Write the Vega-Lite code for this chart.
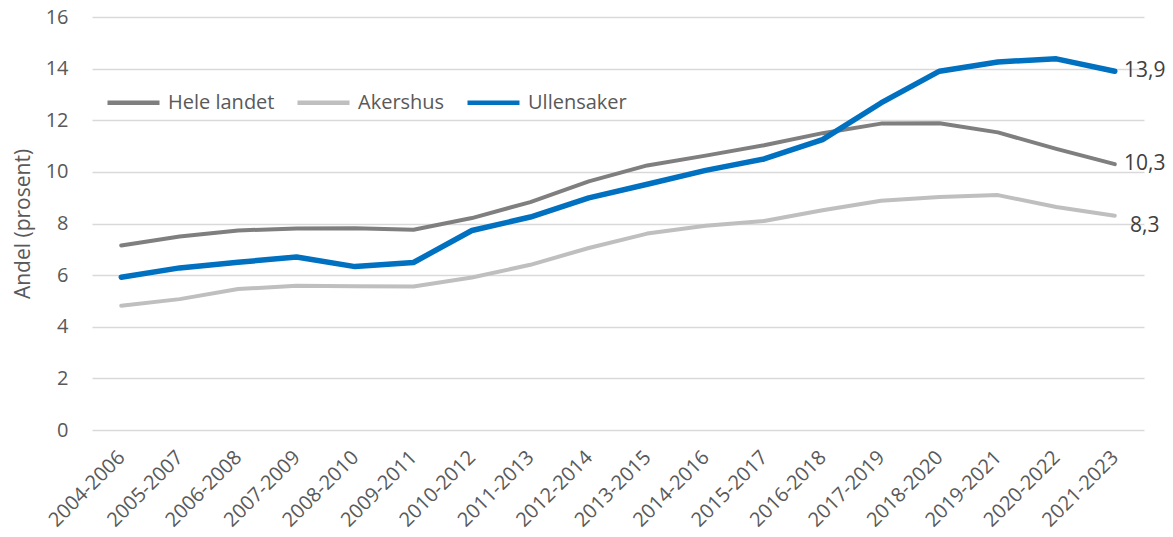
{
  "$schema": "https://vega.github.io/schema/vega-lite/v6.json",
  "width": 1052,
  "height": 413,
  "autosize": {"type": "none"},
  "padding": {"left": 92, "top": 17, "right": 29, "bottom": 107},
  "background": "white",
  "config": {
    "view": {"stroke": null},
    "font": "Open Sans",
    "locale": {"number": {"decimal": ",", "thousands": " ", "grouping": [3], "currency": ["", " kr"]}}
  },
  "data": {
    "values": [
      {"periode": "2004-2006", "serie": "Hele landet", "andel": 7.15},
      {"periode": "2005-2007", "serie": "Hele landet", "andel": 7.5},
      {"periode": "2006-2008", "serie": "Hele landet", "andel": 7.73},
      {"periode": "2007-2009", "serie": "Hele landet", "andel": 7.81},
      {"periode": "2008-2010", "serie": "Hele landet", "andel": 7.82},
      {"periode": "2009-2011", "serie": "Hele landet", "andel": 7.76},
      {"periode": "2010-2012", "serie": "Hele landet", "andel": 8.21},
      {"periode": "2011-2013", "serie": "Hele landet", "andel": 8.83},
      {"periode": "2012-2014", "serie": "Hele landet", "andel": 9.63},
      {"periode": "2013-2015", "serie": "Hele landet", "andel": 10.25},
      {"periode": "2014-2016", "serie": "Hele landet", "andel": 10.63},
      {"periode": "2015-2017", "serie": "Hele landet", "andel": 11.03},
      {"periode": "2016-2018", "serie": "Hele landet", "andel": 11.5},
      {"periode": "2017-2019", "serie": "Hele landet", "andel": 11.87},
      {"periode": "2018-2020", "serie": "Hele landet", "andel": 11.88},
      {"periode": "2019-2021", "serie": "Hele landet", "andel": 11.53},
      {"periode": "2020-2022", "serie": "Hele landet", "andel": 10.89},
      {"periode": "2021-2023", "serie": "Hele landet", "andel": 10.3},
      {"periode": "2004-2006", "serie": "Akershus", "andel": 4.81},
      {"periode": "2005-2007", "serie": "Akershus", "andel": 5.07},
      {"periode": "2006-2008", "serie": "Akershus", "andel": 5.46},
      {"periode": "2007-2009", "serie": "Akershus", "andel": 5.59},
      {"periode": "2008-2010", "serie": "Akershus", "andel": 5.57},
      {"periode": "2009-2011", "serie": "Akershus", "andel": 5.56},
      {"periode": "2010-2012", "serie": "Akershus", "andel": 5.91},
      {"periode": "2011-2013", "serie": "Akershus", "andel": 6.4},
      {"periode": "2012-2014", "serie": "Akershus", "andel": 7.05},
      {"periode": "2013-2015", "serie": "Akershus", "andel": 7.61},
      {"periode": "2014-2016", "serie": "Akershus", "andel": 7.91},
      {"periode": "2015-2017", "serie": "Akershus", "andel": 8.1},
      {"periode": "2016-2018", "serie": "Akershus", "andel": 8.51},
      {"periode": "2017-2019", "serie": "Akershus", "andel": 8.88},
      {"periode": "2018-2020", "serie": "Akershus", "andel": 9.03},
      {"periode": "2019-2021", "serie": "Akershus", "andel": 9.1},
      {"periode": "2020-2022", "serie": "Akershus", "andel": 8.64},
      {"periode": "2021-2023", "serie": "Akershus", "andel": 8.3},
      {"periode": "2004-2006", "serie": "Ullensaker", "andel": 5.92},
      {"periode": "2005-2007", "serie": "Ullensaker", "andel": 6.28},
      {"periode": "2006-2008", "serie": "Ullensaker", "andel": 6.5},
      {"periode": "2007-2009", "serie": "Ullensaker", "andel": 6.7},
      {"periode": "2008-2010", "serie": "Ullensaker", "andel": 6.33},
      {"periode": "2009-2011", "serie": "Ullensaker", "andel": 6.49},
      {"periode": "2010-2012", "serie": "Ullensaker", "andel": 7.73},
      {"periode": "2011-2013", "serie": "Ullensaker", "andel": 8.25},
      {"periode": "2012-2014", "serie": "Ullensaker", "andel": 8.99},
      {"periode": "2013-2015", "serie": "Ullensaker", "andel": 9.52},
      {"periode": "2014-2016", "serie": "Ullensaker", "andel": 10.06},
      {"periode": "2015-2017", "serie": "Ullensaker", "andel": 10.5},
      {"periode": "2016-2018", "serie": "Ullensaker", "andel": 11.25},
      {"periode": "2017-2019", "serie": "Ullensaker", "andel": 12.67},
      {"periode": "2018-2020", "serie": "Ullensaker", "andel": 13.9},
      {"periode": "2019-2021", "serie": "Ullensaker", "andel": 14.26},
      {"periode": "2020-2022", "serie": "Ullensaker", "andel": 14.38},
      {"periode": "2021-2023", "serie": "Ullensaker", "andel": 13.9}
    ]
  },
  "encoding": {
    "x": {
      "field": "periode",
      "type": "ordinal",
      "sort": null,
      "axis": {
        "title": null,
        "labelAngle": -45,
        "labelAlign": "right",
        "labelBaseline": "middle",
        "labelFontSize": 20,
        "labelColor": "#595959",
        "labelPadding": 24,
        "labelOverlap": false,
        "domain": false,
        "ticks": false,
        "grid": false
      }
    },
    "y": {
      "field": "andel",
      "type": "quantitative",
      "scale": {"domain": [0, 16], "nice": false},
      "axis": {
        "title": "Andel (prosent)",
        "titleFontSize": 21,
        "titleFontWeight": "normal",
        "titleColor": "#595959",
        "titlePadding": 12,
        "labelFontSize": 20,
        "labelColor": "#595959",
        "labelPadding": 24,
        "values": [0, 2, 4, 6, 8, 10, 12, 14, 16],
        "domain": false,
        "ticks": false,
        "gridColor": "#d9d9d9",
        "gridWidth": 1.5
      }
    }
  },
  "layer": [
    {
      "mark": {"type": "line", "strokeCap": "round", "strokeJoin": "round"},
      "encoding": {
        "color": {
          "field": "serie",
          "type": "nominal",
          "scale": {"domain": ["Hele landet", "Akershus", "Ullensaker"], "range": ["#7f7f7f", "#bfbfbf", "#0070c0"]},
          "legend": {
            "title": null,
            "orient": "none",
            "legendX": 13,
            "legendY": 57,
            "direction": "horizontal",
            "symbolType": "stroke",
            "symbolSize": 2704,
            "symbolStrokeWidth": 4.5,
            "labelFontSize": 20,
            "labelColor": "#595959",
            "labelOffset": 6,
            "columnPadding": 13,
            "padding": 0
          }
        },
        "strokeWidth": {"condition": {"test": "datum.serie == 'Ullensaker'", "value": 5.5}, "value": 4}
      }
    },
    {
      "transform": [{"filter": "datum.periode == '2021-2023' && datum.serie != 'Akershus'"}],
      "mark": {"type": "text", "dx": 30, "align": "center", "baseline": "middle", "fontSize": 21, "color": "#404040"},
      "encoding": {"text": {"field": "andel", "type": "quantitative", "format": ".1f"}}
    },
    {
      "transform": [{"filter": "datum.periode == '2021-2023' && datum.serie == 'Akershus'"}],
      "mark": {"type": "text", "dx": 30, "dy": 10, "align": "center", "baseline": "middle", "fontSize": 21, "color": "#404040"},
      "encoding": {"text": {"field": "andel", "type": "quantitative", "format": ".1f"}}
    }
  ]
}
